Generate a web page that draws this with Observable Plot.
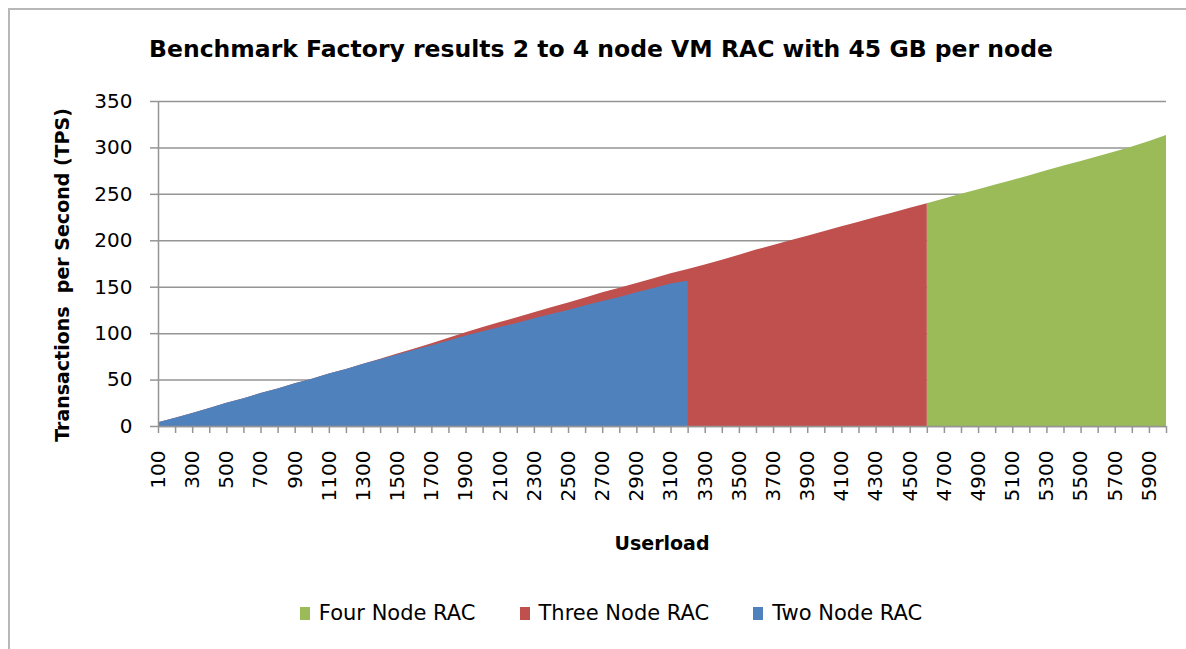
<!DOCTYPE html>
<html>
<head>
<meta charset="utf-8">
<script src="https://cdn.jsdelivr.net/npm/d3@7"></script>
<script src="https://cdn.jsdelivr.net/npm/@observablehq/plot@0.6"></script>
<style>
  html, body { margin: 0; padding: 0; background: #fff; }
  #wrap { position: relative; width: 1186px; height: 649px; overflow: hidden; font-family: "DejaVu Sans", sans-serif; color: #000; }
  #frame { position: absolute; left: 8px; top: 8px; width: 1200px; height: 700px; border-left: 2px solid #b8b8b8; border-top: 2px solid #b8b8b8; box-sizing: border-box; }
  #chart { position: absolute; left: 0; top: 0; }
  #title { position: absolute; left: 0; width: 1202px; top: 35px; text-align: center; font-weight: bold; font-size: 23.5px; line-height: 28px; white-space: nowrap; }
  #ylabel { position: absolute; left: 62px; top: 275px; transform: translate(-50%, -50%) rotate(-90deg); font-weight: bold; font-size: 19px; white-space: pre; }
  #xlabel { position: absolute; left: 662px; top: 543px; transform: translate(-50%, -50%); font-weight: bold; font-size: 19px; white-space: nowrap; }
  #legend { position: absolute; left: 0; width: 1222px; top: 601px; display: flex; justify-content: center; gap: 44px; font-size: 21px; line-height: 25px; }
  .item { display: flex; align-items: center; gap: 9px; white-space: nowrap; }
  .sw { width: 10px; height: 13px; display: inline-block; }
</style>
</head>
<body>
<div id="wrap">
  <div id="frame"></div>
  <div id="chart"></div>
  <div id="title"></div>
  <div id="ylabel"></div>
  <div id="xlabel"></div>
  <div id="legend"></div>
</div>
<script>
// ---- Data ----
const titleText = "Benchmark Factory results 2 to 4 node VM RAC with 45 GB per node";
const yTitle = "Transactions  per Second (TPS)";
const xTitle = "Userload";

const seriesNames = ["Four Node RAC", "Three Node RAC", "Two Node RAC"];
const seriesColors = ["#9BBB59", "#C0504D", "#4F81BD"];

// Userload categories (x)
const userload = [100, 200, 300, 400, 500, 600, 700, 800, 900, 1000,
  1100, 1200, 1300, 1400, 1500, 1600, 1700, 1800, 1900, 2000,
  2100, 2200, 2300, 2400, 2500, 2600, 2700, 2800, 2900, 3000,
  3100, 3200, 3300, 3400, 3500, 3600, 3700, 3800, 3900, 4000,
  4100, 4200, 4300, 4400, 4500, 4600, 4700, 4800, 4900, 5000,
  5100, 5200, 5300, 5400, 5500, 5600, 5700, 5800, 5900, 6000];

// Labelled x ticks (every other category)
const xTickLabels = [100, 300, 500, 700, 900, 1100, 1300, 1500, 1700, 1900,
  2100, 2300, 2500, 2700, 2900, 3100, 3300, 3500, 3700, 3900,
  4100, 4300, 4500, 4700, 4900, 5100, 5300, 5500, 5700, 5900];

const yTicks = [0, 50, 100, 150, 200, 250, 300, 350];

// Two Node RAC: userload 100 .. 3200
const twoNode = [4, 9, 14, 19.5, 25, 30, 35.5, 40.5, 46, 51,
  56.5, 61.5, 67, 72, 77, 82, 87, 92, 97.5, 102,
  106.5, 111, 116, 120.5, 125, 130, 134.5, 139, 144, 148.5,
  153.5, 156.5];

// Three Node RAC: userload 100 .. 4600
const threeNode = [4, 9, 14, 19.5, 25, 30, 35.5, 40.5, 46, 51,
  56.5, 61.5, 67, 72.5, 78, 83.5, 89, 95, 101, 106.5,
  112, 117, 122.5, 128, 133, 138.5, 144, 149, 154, 159,
  164.5, 169, 174, 179, 184.5, 190, 195, 200, 205, 210,
  215, 220, 225, 230, 235, 240];

// Four Node RAC: userload 4600 .. 6000 (visible part)
const fourNodeStart = 4600;
const fourNode = [240, 245, 250, 255, 260, 265, 270, 275.5, 280.5, 285.5,
  290.5, 295.5, 301, 307, 313.5];

// ---- Build tables ----
function toRows(values, startLoad) {
  const i0 = userload.indexOf(startLoad);
  return values.map((v, i) => ({x: userload[i0 + i], y: v}));
}
const rowsFour = toRows(fourNode, fourNodeStart);
const rowsThree = toRows(threeNode, 100);
const rowsTwo = toRows(twoNode, 100);

const gridColor = "#959595";

const chart = Plot.plot({
  width: 1186,
  height: 649,
  marginLeft: 158,
  marginRight: 20,
  marginTop: 101,
  marginBottom: 223,
  style: {fontFamily: "DejaVu Sans, sans-serif", fontSize: "20px", background: "transparent", color: "#000"},
  x: {type: "linear", domain: [100, 6000]},
  y: {domain: [0, 350]},
  marks: [
    Plot.ruleY(yTicks, {stroke: gridColor, strokeWidth: 1.5}),
    Plot.areaY(rowsFour, {x: "x", y: "y", fill: seriesColors[0]}),
    Plot.areaY(rowsThree, {x: "x", y: "y", fill: seriesColors[1]}),
    Plot.areaY(rowsTwo, {x: "x", y: "y", fill: seriesColors[2]}),
    Plot.ruleX([100], {stroke: gridColor, strokeWidth: 1.5}),
    Plot.ruleY([0], {stroke: gridColor, strokeWidth: 1.5}),
    Plot.axisY({ticks: yTicks, tickSize: 8, tickPadding: 18, stroke: gridColor, strokeWidth: 1.5, fill: "#000", label: null}),
    Plot.axisX({ticks: userload, tickSize: 7, stroke: gridColor, strokeWidth: 1.5, text: null, label: null}),
    Plot.axisX({ticks: xTickLabels, tickSize: 0, tickPadding: 24, tickRotate: -90, fill: "#000", label: null, tickFormat: d => String(d)})
  ]
});
document.getElementById("chart").appendChild(chart);

document.getElementById("title").textContent = titleText;
document.getElementById("ylabel").textContent = yTitle;
document.getElementById("xlabel").textContent = xTitle;

const legend = document.getElementById("legend");
seriesNames.forEach((name, i) => {
  const item = document.createElement("div");
  item.className = "item";
  const sw = document.createElement("span");
  sw.className = "sw";
  sw.style.background = seriesColors[i];
  const t = document.createElement("span");
  t.textContent = name;
  item.appendChild(sw);
  item.appendChild(t);
  legend.appendChild(item);
});
</script>
</body>
</html>
